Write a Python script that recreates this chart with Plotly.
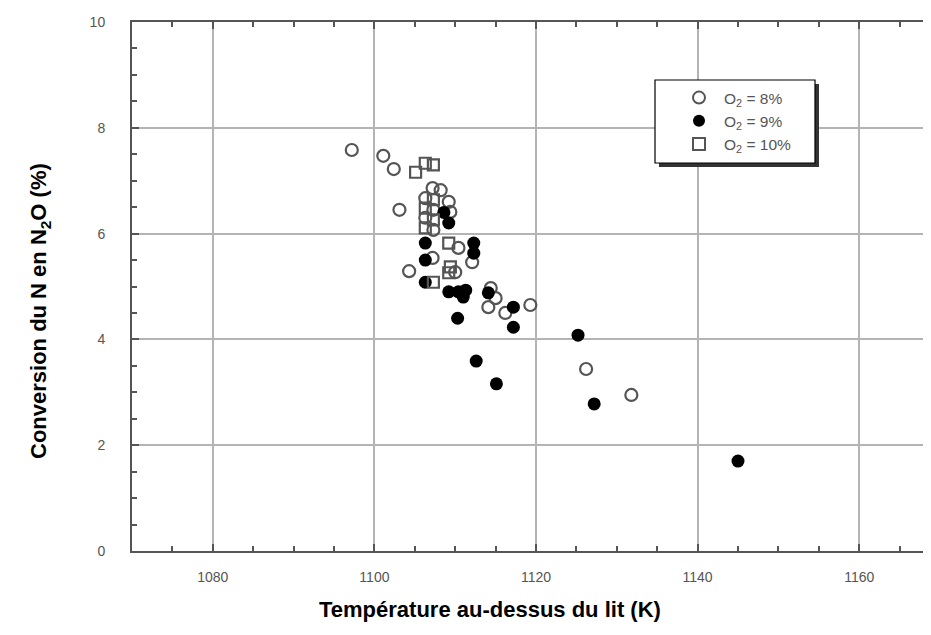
import plotly.graph_objects as go

# ---- data ----
t_o2_8 = [1097.2, 1101.1, 1102.4, 1103.1, 1104.3, 1107.2, 1108.2, 1106.3, 1109.2, 1107.3,
          1109.4, 1106.3, 1107.3, 1110.4, 1107.2, 1110.0, 1112.1, 1114.4, 1115.0, 1114.1,
          1116.2, 1119.3, 1126.2, 1131.8]
c_o2_8 = [7.58, 7.47, 7.22, 6.45, 5.29, 6.86, 6.82, 6.67, 6.60, 6.45,
          6.41, 6.30, 6.07, 5.73, 5.54, 5.27, 5.46, 4.97, 4.78, 4.61,
          4.50, 4.65, 3.44, 2.95]

t_o2_9 = [1108.6, 1109.2, 1106.3, 1112.3, 1112.3, 1106.3, 1106.3, 1109.2, 1110.4, 1111.3,
          1111.0, 1110.3, 1114.1, 1117.2, 1117.2, 1112.6, 1115.1, 1125.2, 1127.2, 1145.0]
c_o2_9 = [6.40, 6.20, 5.82, 5.82, 5.63, 5.50, 5.08, 4.90, 4.90, 4.93,
          4.80, 4.40, 4.88, 4.61, 4.23, 3.59, 3.16, 4.08, 2.78, 1.70]

t_o2_10 = [1105.1, 1106.3, 1107.3, 1107.3, 1106.3, 1107.3, 1106.3, 1109.2, 1109.4, 1109.2, 1107.3]
c_o2_10 = [7.16, 7.33, 7.30, 6.64, 6.48, 6.26, 6.11, 5.82, 5.37, 5.26, 5.08]

legend_names = ["O<sub>2</sub> = 8%", "O<sub>2</sub> = 9%", "O<sub>2</sub> = 10%"]
x_ticks = [1080, 1100, 1120, 1140, 1160]
y_ticks = [0, 2, 4, 6, 8, 10]
x_title = "<b>Température au-dessus du lit (K)</b>"
y_title = "<b>Conversion du N en N<sub>2</sub>O (%)</b>"

# ---- layout geometry (page has an 8 px body margin) ----
OFF = 8
W, H = 923, 627
ML, MT, MB, MR = 124, 14, 84, 0
PW, PH = W - ML - MR, H - MT - MB

def page_to_paper(px, py):
    fx, fy = px - OFF, py - OFF
    return (fx - ML) / PW, (H - MB - fy) / PH

FONT = "Liberation Sans, Arial, Helvetica, sans-serif"
GRAY = "#555555"

fig = go.Figure()
fig.add_trace(go.Scatter(x=t_o2_8, y=c_o2_8, mode="markers", name=legend_names[0],
                         marker=dict(symbol="circle-open", size=12, color=GRAY,
                                     line=dict(width=2.2, color=GRAY))))
fig.add_trace(go.Scatter(x=t_o2_9, y=c_o2_9, mode="markers", name=legend_names[1],
                         marker=dict(symbol="circle", size=13, color="black",
                                     line=dict(width=0))))
fig.add_trace(go.Scatter(x=t_o2_10, y=c_o2_10, mode="markers", name=legend_names[2],
                         marker=dict(symbol="square-open", size=11, color=GRAY,
                                     line=dict(width=2.2, color=GRAY))))

axis_common = dict(
    showline=True, linecolor=GRAY, linewidth=2,
    ticks="inside", ticklen=7, tickwidth=1.5, tickcolor=GRAY,
    showgrid=True, gridcolor="#b4b4b4", gridwidth=1.5,
    zeroline=False,
    tickfont=dict(family=FONT, size=14, color="#555555"),
)

fig.update_xaxes(
    range=[1070, 1070 + PW / 8.08],
    tickmode="array", tickvals=x_ticks, ticktext=[str(v) for v in x_ticks],
    minor=dict(dtick=5, tick0=1070, ticks="inside", ticklen=5, tickcolor=GRAY, tickwidth=1.5, showgrid=False),
    mirror="ticks",
    ticklabelstandoff=12,
    **axis_common,
)
fig.update_yaxes(
    range=[0, 10],
    tickmode="array", tickvals=y_ticks, ticktext=[str(v) for v in y_ticks],
    minor=dict(dtick=0.5, tick0=0, ticks="inside", ticklen=5, tickcolor=GRAY, tickwidth=1.5, showgrid=False),
    ticklabelstandoff=22,
    **axis_common,
)

# legend box (frame + drop shadow) with the legend entries on top
bx0, by1 = page_to_paper(655, 80)
bx1, by0 = page_to_paper(815, 163)
sx0, sy1 = page_to_paper(659, 84)
sx1, sy0 = page_to_paper(819, 167)
fig.add_shape(type="rect", xref="paper", yref="paper", x0=sx0, x1=sx1, y0=sy0, y1=sy1,
              fillcolor="#333333", line=dict(width=0), layer="above")
fig.add_shape(type="rect", xref="paper", yref="paper", x0=bx0, x1=bx1, y0=by0, y1=by1,
              fillcolor="white", line=dict(width=1.2, color="black"), layer="above")

lx, ly = page_to_paper(674, 81)
fig.update_layout(
    width=W, height=H,
    margin=dict(l=ML, r=MR, t=MT, b=MB),
    paper_bgcolor="white", plot_bgcolor="white",
    showlegend=True,
    legend=dict(x=lx, y=ly, xanchor="left", yanchor="top",
                bgcolor="rgba(0,0,0,0)", borderwidth=0,
                font=dict(family=FONT, size=15.5, color="#555555"),
                itemwidth=40, tracegroupgap=0, itemsizing="constant"),
)

# axis titles
ax_x, ax_y = page_to_paper(490, 609)
fig.add_annotation(text=x_title, xref="paper", yref="paper", x=ax_x, y=ax_y,
                   xanchor="center", yanchor="middle", showarrow=False,
                   font=dict(family=FONT, size=22, color="black"))
ay_x, ay_y = page_to_paper(40, 311)
fig.add_annotation(text=y_title, xref="paper", yref="paper", x=ay_x, y=ay_y,
                   xanchor="center", yanchor="middle", showarrow=False, textangle=-90,
                   font=dict(family=FONT, size=22, color="black"))

fig.write_html("out.html")
